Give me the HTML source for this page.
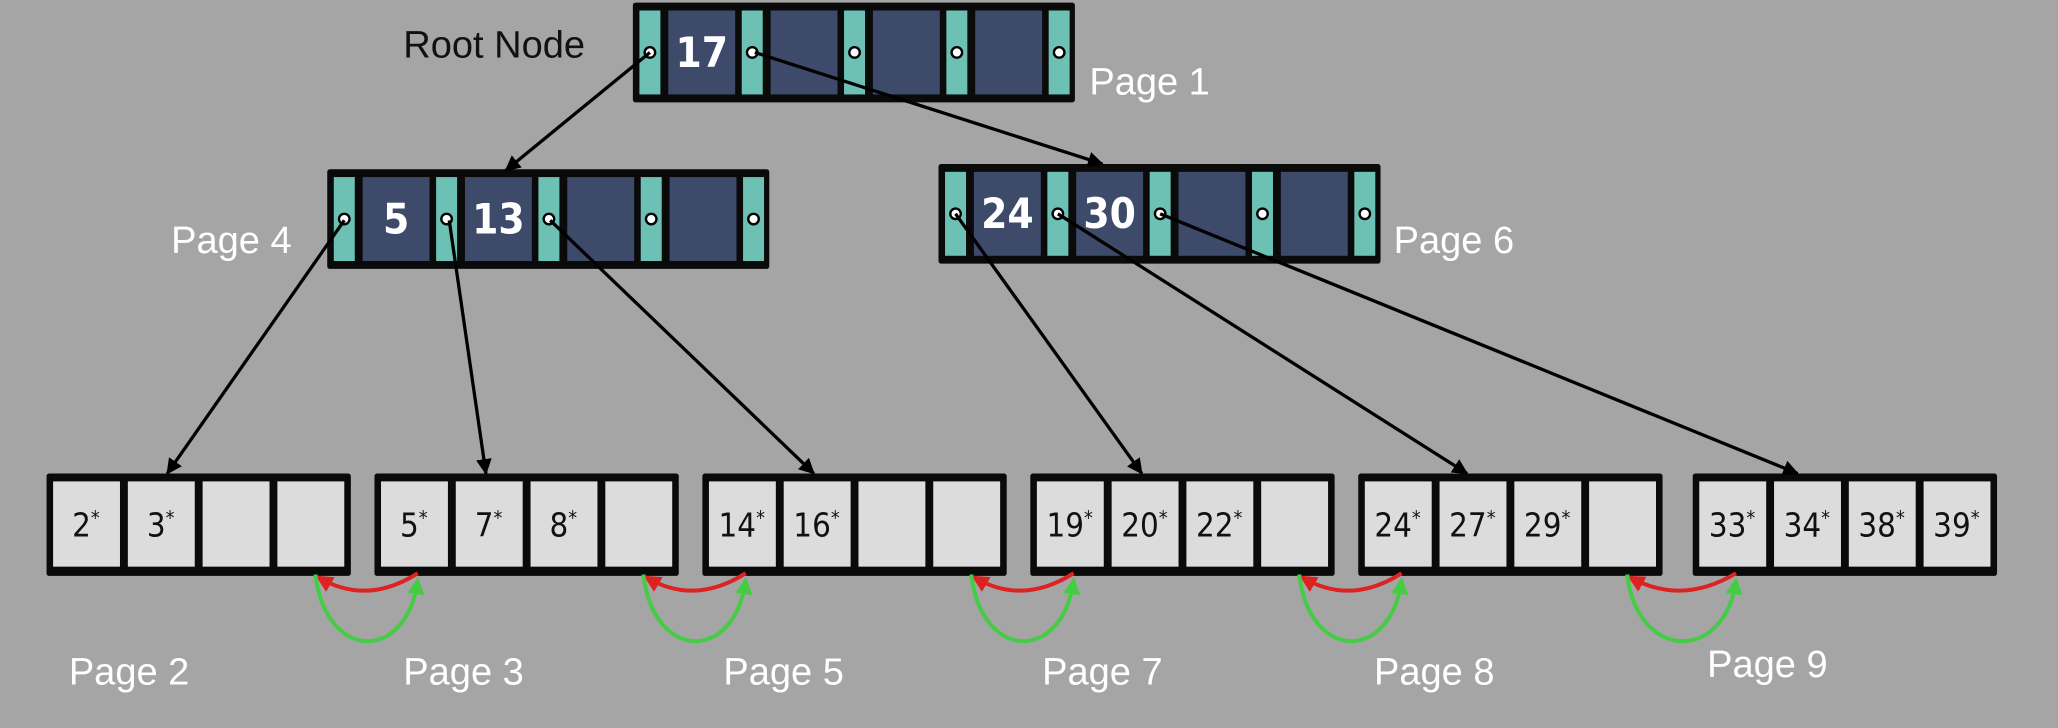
<!DOCTYPE html>
<html><head><meta charset="utf-8"><style>
html,body{margin:0;padding:0;background:#a5a5a5;}
svg{display:block;}
</style></head><body>
<svg id="s" width="2058" height="728" viewBox="0 0 1568 555" xmlns="http://www.w3.org/2000/svg">
<defs>
<marker id="ab" markerWidth="12" markerHeight="12" refX="11" refY="6" orient="auto" markerUnits="userSpaceOnUse" viewBox="0 0 12 12"><path d="M0,0 L12,6 L0,12 z" fill="#000"/></marker>
<marker id="ar" markerWidth="13" markerHeight="13" refX="11" refY="6.5" orient="auto" markerUnits="userSpaceOnUse" viewBox="0 0 13 13"><path d="M0,0 L13,6.5 L0,13 z" fill="#d22"/></marker>
<marker id="ag" markerWidth="13" markerHeight="13" refX="11" refY="6.5" orient="auto" markerUnits="userSpaceOnUse" viewBox="0 0 13 13"><path d="M0,0 L13,6.5 L0,13 z" fill="#4c4"/></marker>
</defs>
<rect width="1568" height="555" fill="#a5a5a5"/>
</svg>
<script>
const NS="http://www.w3.org/2000/svg";
const svg=document.getElementById('s');
const innerNodes=[{x:482,y:2,keys:["17"],name:"root-node"},{x:249,y:129,keys:["5","13"],name:"page-4-node"},{x:715,y:125,keys:["24","30"],name:"page-6-node"}];
const leafX=[35,285,535,785,1035,1290];
const leafKeys=[["2","3"],["5","7","8"],["14","16"],["19","20","22"],["24","27","29"],["33","34","38","39"]];
const labels=[["Root Node",307,44,"#111"],["Page 1",830,72,"#fff"],["Page 4",130,193,"#fff"],["Page 6",1062,193,"#fff"],["Page 2",52,522,"#fff"],["Page 3",307,522,"#fff"],["Page 5",551,522,"#fff"],["Page 7",794,522,"#fff"],["Page 8",1047,522,"#fff"],["Page 9",1301,516,"#fff"]];
function el(t,a,p){const e=document.createElementNS(NS,t);for(const k in a)e.setAttribute(k,a[k]);(p||svg).appendChild(e);return e;}
const LY=361;
innerNodes.forEach(n=>{
  const g=el('g',{});
  
  
  el('rect',{x:n.x,y:n.y,width:337,height:76,fill:'#0a0a0a',rx:2},g);
  for(let i=0;i<5;i++){
    const tx=n.x+5+i*78;
    el('rect',{x:tx,y:n.y+6,width:16,height:64,fill:'#6cc0b4'},g);
    el('circle',{cx:tx+8,cy:n.y+38,r:4,fill:'#fff',stroke:'#000','stroke-width':1.8},g);
    if(i<4){
      const dx=tx+22;
      el('rect',{x:dx,y:n.y+6,width:51,height:64,fill:'#3e4a6a'},g);
      if(n.keys[i]){const t=el('text',{x:dx+25.5,y:n.y+49,'text-anchor':'middle','font-family':'"DejaVu Sans", sans-serif','font-stretch':'condensed','font-weight':'bold','font-size':32,fill:'#fff'},g);t.textContent=n.keys[i];}
    }
  }
});
leafX.forEach((x,li)=>{
  const g=el('g',{});
  
  
  el('rect',{x:x,y:LY,width:232,height:78,fill:'#0a0a0a',rx:2},g);
  for(let i=0;i<4;i++){
    const cx=x+5+i*57;
    el('rect',{x:cx,y:LY+6,width:51,height:65,fill:'#dcdcdc'},g);
    const k=leafKeys[li][i];
    if(k){const t=el('text',{x:cx+25,y:LY+48,'text-anchor':'middle','font-family':'"DejaVu Sans", sans-serif','font-stretch':'condensed','font-size':25,fill:'#111'},g);
      t.appendChild(document.createTextNode(k));
      const s=el('tspan',{'font-size':15,dy:-9},t);s.textContent='*';}
  }
});
const arrows=[[495,40,385,130],[575,40,840,125],[262,168,127,361],[342,168,370,361],[419,168,620,361],[728,163,870,361],[806,163,1118,361],[884,163,1370,361]];
arrows.forEach(a=>{const l=el('line',{x1:a[0],y1:a[1],x2:a[2],y2:a[3],stroke:'#000','stroke-width':2.5,'marker-end':'url(#ab)'});

});
for(let i=0;i<5;i++){
  const a=leafX[i]+205, b=leafX[i+1]+33;
  const r=el('path',{d:`M${b},437 Q${(a+b)/2},462 ${a+2},440`,fill:'none',stroke:'#d22','stroke-width':3,'marker-end':'url(#ar)'});
  
  
  const gr=el('path',{d:`M${a},438 C${a+8},505 ${b-8},505 ${b},442`,fill:'none',stroke:'#4c4','stroke-width':3,'marker-end':'url(#ag)'});
  
  
}
labels.forEach(l=>{const t=el('text',{x:l[1],y:l[2],'font-family':'"Liberation Sans", sans-serif','font-size':29,fill:l[3]});t.textContent=l[0];

});
</script>
</body></html>
